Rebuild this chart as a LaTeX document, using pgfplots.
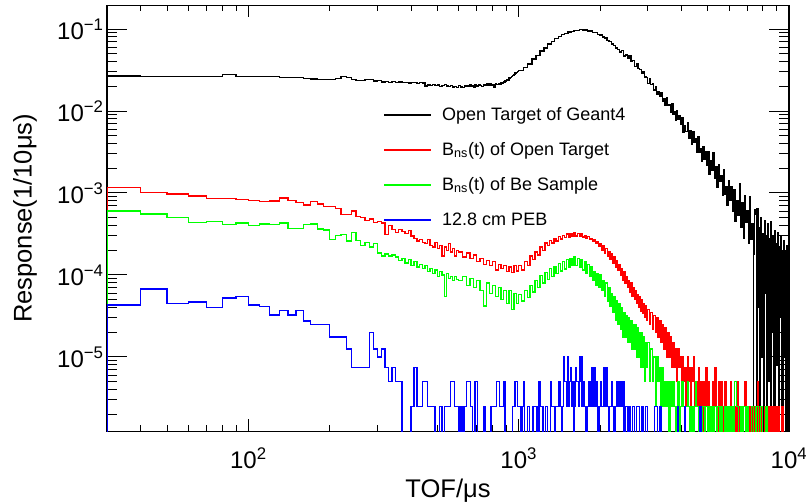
\documentclass[border=0pt]{standalone}
\usepackage{fontspec}
\setmainfont{Liberation Sans}
\usepackage{pgfplots}
\pgfplotsset{compat=1.18}

\definecolor{rootred}{RGB}{255,0,0}
\definecolor{rootgreen}{RGB}{0,255,0}
\definecolor{rootblue}{RGB}{0,0,255}

\begin{document}
\begin{tikzpicture}
\begin{axis}[
  scale only axis, width=681.5bp, height=425.5bp,
  xmode=log, ymode=log,
  xmin=30, xmax=10000, ymin=1.24e-6, ymax=0.1936,
  axis line style={line width=1.2bp},
  tick style={line width=1bp, black},
  tick align=inside, tick pos=both,
  major tick length=12bp, minor tick length=6bp,
  ytick style={/pgfplots/major tick length=20bp, /pgfplots/minor tick length=10bp},
  xtick={100,1000,10000},
  xticklabels={10\textsuperscript{2},10\textsuperscript{3},10\textsuperscript{4}},
  minor xtick={40,50,60,70,80,90,200,300,400,500,600,700,800,900,2000,3000,4000,5000,6000,7000,8000,9000},
  ytick={1e-5,1e-4,1e-3,1e-2,1e-1},
  yticklabels={10\textsuperscript{−5},10\textsuperscript{−4},10\textsuperscript{−3},10\textsuperscript{−2},10\textsuperscript{−1}},
  minor ytick={2e-6,3e-6,4e-6,5e-6,6e-6,7e-6,8e-6,9e-6,
               2e-5,3e-5,4e-5,5e-5,6e-5,7e-5,8e-5,9e-5,
               2e-4,3e-4,4e-4,5e-4,6e-4,7e-4,8e-4,9e-4,
               2e-3,3e-3,4e-3,5e-3,6e-3,7e-3,8e-3,9e-3,
               2e-2,3e-2,4e-2,5e-2,6e-2,7e-2,8e-2,9e-2},
  tick label style={font=\fontsize{24bp}{28bp}\selectfont},
  xticklabel style={yshift=-13bp},
  label style={font=\fontsize{25.5bp}{30bp}\selectfont},
  xlabel={TOF/μs},
  ylabel={Response(1/10μs)},
  xlabel style={at={(axis description cs:0.5,-0.155)}, anchor=base},
  ylabel style={at={(axis description cs:-0.1203,0.5)}, anchor=center},
  legend style={at={(axis description cs:0.405,0.762)}, anchor=north west,
    draw=none, fill=none, inner sep=0pt, column sep=10bp, row sep=18bp,
    font=\fontsize{18bp}{21bp}\selectfont,
    nodes={inner sep=0pt, text height=13bp, text depth=4bp}},
  legend cell align=left,
  legend image code/.code={\draw[#1, line width=1.7bp] (0bp,0.5bp) -- (47bp,0.5bp);},
  every axis plot/.append style={line width=1.3bp, const plot mark left, mark=none},
]

% Open Target of Geant4
\addplot[black] coordinates {
(30,1e-7)(30,0.0268)(40,0.0266)(50,0.0265)(60,0.0264)(70,0.0266)(80,0.0278)(90,0.0262)(100,0.0263)(110,0.0265)(120,0.0262)
(130,0.0257)(140,0.0258)(150,0.0256)(160,0.0248)(170,0.0246)(180,0.0244)(190,0.0240)(200,0.0241)(210,0.0248)(220,0.0262)
(230,0.0258)(240,0.0240)(250,0.0235)(260,0.0236)(270,0.0240)(280,0.0241)(290,0.0233)(300,0.0234)(310,0.0226)(320,0.0229)
(330,0.0224)(340,0.0228)(350,0.0221)(360,0.0226)(370,0.0223)(380,0.0222)(390,0.0219)(400,0.0224)(410,0.0221)(420,0.0218)
(430,0.0222)(440,0.0220)(450,0.0202)(460,0.0208)(470,0.0204)(480,0.0210)(490,0.0203)(500,0.0207)(510,0.0199)(520,0.0205)
(530,0.0211)(540,0.0201)(550,0.0198)(560,0.0203)(570,0.0196)(580,0.0200)(590,0.0195)(600,0.0204)(610,0.0197)(620,0.0193)
(630,0.0201)(640,0.0206)(650,0.0199)(660,0.0209)(670,0.0202)(680,0.0196)(690,0.0207)(700,0.0201)(710,0.0210)(720,0.0204)
(730,0.0199)(740,0.0212)(750,0.0205)(760,0.0214)(770,0.0208)(780,0.0218)(790,0.0206)(800,0.0211)(810,0.0195)(820,0.0214)
(830,0.0209)(840,0.0217)(850,0.0212)(860,0.0222)(870,0.0218)(880,0.0226)(890,0.0232)(900,0.0240)(910,0.0238)(920,0.0252)
(930,0.0256)(940,0.0262)(950,0.0272)(960,0.0280)(970,0.0290)(980,0.0296)(990,0.0304)
(1000,0.0312)(1040,0.0338)(1080,0.0376)(1120,0.0430)(1160,0.0476)(1200,0.0540)(1240,0.0585)(1280,0.0655)(1320,0.0700)(1360,0.0765)
(1400,0.0805)(1440,0.0855)(1480,0.0880)(1520,0.0920)(1560,0.0935)(1600,0.0965)(1640,0.0968)(1680,0.0985)(1720,0.0970)(1760,0.0972)
(1800,0.0950)(1840,0.0945)(1880,0.0912)(1920,0.0900)(1960,0.0860)(2000,0.0842)(2040,0.0800)(2080,0.0775)(2120,0.0728)(2160,0.0705)
(2200,0.0655)(2240,0.0630)(2280,0.0585)(2320,0.0562)(2360,0.0525)
(2400,0.0542)(2440,0.0468)(2480,0.0483)(2520,0.0444)(2560,0.0468)(2600,0.0398)(2640,0.0411)(2680,0.0352)(2720,0.0377)(2760,0.0332)
(2800,0.0324)(2840,0.0284)(2880,0.0302)(2920,0.0260)(2960,0.0256)
(3000,0.0217)(3040,0.0248)(3080,0.0209)(3120,0.0217)(3160,0.0181)(3200,0.0198)(3240,0.0158)(3280,0.0171)(3320,0.0151)(3360,0.0169)
(3400,0.0132)(3440,0.0143)(3480,0.0116)(3520,0.0145)(3560,0.0116)(3600,0.0121)(3640,0.0095)(3680,0.0124)(3720,0.0092)(3760,0.0098)
(3800,0.0078)(3840,0.0100)(3880,0.0079)(3920,0.0087)(3960,0.0068)
(4000,0.0083)(4050,0.0055)(4100,0.0067)(4150,0.0056)(4200,0.0073)(4250,0.0047)(4300,0.0057)(4350,0.0039)(4400,0.0056)(4450,0.0042)
(4500,0.0046)(4550,0.0031)(4600,0.0049)(4650,0.0031)(4700,0.0035)(4750,0.0024)(4800,0.0037)(4850,0.0026)(4900,0.0032)(4950,0.0022)
(5000,0.0032)(5060,0.0017)(5120,0.0025)(5180,0.0019)(5240,0.0031)(5300,0.0015)(5360,0.0021)(5420,0.00116)(5480,0.0022)(5540,0.00139)
(5600,0.00164)(5660,0.00093)(5720,0.0019)(5780,0.00095)(5840,0.00119)(5900,0.00071)(5960,0.0014)
(6020,8.1e-4)(6095,1.19e-3)(6170,5.9e-4)(6245,1.11e-3)(6320,4.5e-4)(6395,8.0e-4)(6470,5.4e-4)(6545,1.29e-3)(6620,3.8e-4)(6695,7.7e-4)
(6770,2.8e-4)(6845,9.2e-4)(6920,4.4e-4)(6995,6.1e-4)(7070,2.4e-4)(7145,9.0e-4)(7220,2.75e-4)(7295,4.2e-4)(7370,1e-7)(7400,1.8e-4)
(7445,6.3e-4)(7520,5.5e-4)(7570,1e-7)(7620,6.5e-4)(7680,4e-5)(7740,3.8e-4)(7800,1e-7)(7860,5.0e-4)(7920,1e-5)(7980,3.2e-4)
(8040,1e-7)(8100,4.6e-4)(8160,6e-5)(8220,3.0e-4)(8280,1e-7)(8340,4.2e-4)(8400,5e-6)(8460,2.8e-4)(8520,1e-7)(8580,4.5e-4)
(8640,2e-5)(8700,3.0e-4)(8760,1e-7)(8820,3.5e-4)(8880,1e-7)(8940,2.4e-4)(9000,8e-6)(9060,3.3e-4)(9120,1e-7)(9180,2.2e-4)
(9240,3e-5)(9300,2.9e-4)(9360,1e-7)(9420,2.0e-4)(9480,1e-7)(9540,2.6e-4)(9600,1e-5)(9660,1.9e-4)(9720,1e-7)(9780,2.3e-4)
(9840,1e-7)(9900,1.8e-4)(9960,1e-7)(10000,1e-7)
};
\addlegendentry{Open Target of Geant4}

% B_ns(t) of Open Target
\addplot[rootred] coordinates {
(30,1e-7)(30,1.17e-3)(40,1.01e-3)(50,9.75e-4)(60,9.2e-4)(70,8.65e-4)(80,8.6e-4)(90,8.3e-4)(100,8.17e-4)(110,7.93e-4)(120,8.0e-4)
(130,8.7e-4)(140,8.17e-4)(150,7.65e-4)(160,7.16e-4)(170,7.93e-4)(180,7.37e-4)(190,6.84e-4)(200,6.9e-4)(210,6.45e-4)(220,5.5e-4)
(230,5.5e-4)(240,6.05e-4)(250,5.13e-4)(260,5.0e-4)(270,4.6e-4)(280,4.8e-4)(290,4.4e-4)(300,4.5e-4)(310,4.3e-4)(320,3.1e-4)
(330,4.0e-4)(340,3.6e-4)(350,3.3e-4)(360,3.6e-4)(370,3.4e-4)(380,3.2e-4)(390,3.5e-4)(400,3.0e-4)(410,2.8e-4)(420,2.6e-4)
(430,2.7e-4)(440,2.5e-4)(450,2.4e-4)(460,2.7e-4)(470,2.3e-4)(480,2.2e-4)(490,2.5e-4)(500,2.1e-4)(510,2.3e-4)(520,1.7e-4)
(530,2.2e-4)(540,2.0e-4)(550,2.4e-4)(560,1.9e-4)(570,2.1e-4)(580,1.7e-4)(590,2.0e-4)
(600,1.9e-4)(620,1.65e-4)(640,1.85e-4)(660,1.6e-4)(680,1.75e-4)(700,1.45e-4)(720,1.6e-4)(740,1.35e-4)(760,1.5e-4)(780,1.3e-4)
(800,1.45e-4)(820,1.15e-4)(840,1.35e-4)(860,1.2e-4)(880,1.3e-4)(900,1.1e-4)(920,1.25e-4)(940,1.08e-4)(960,1.3e-4)(980,1.12e-4)
(1000,1.3e-4)(1025,1.15e-4)(1050,1.45e-4)(1075,1.3e-4)(1100,1.7e-4)(1125,1.55e-4)(1150,1.9e-4)(1175,1.75e-4)(1200,2.2e-4)(1225,2.0e-4)
(1250,2.45e-4)(1275,2.3e-4)(1300,2.65e-4)(1325,2.45e-4)(1350,2.8e-4)(1375,2.6e-4)(1400,2.95e-4)(1425,2.75e-4)(1450,3.05e-4)(1475,2.85e-4)
(1500,3.15e-4)(1525,2.9e-4)(1550,3.2e-4)(1575,2.95e-4)(1600,3.3e-4)(1625,3.0e-4)(1650,3.2e-4)(1675,2.95e-4)(1700,3.15e-4)(1725,2.9e-4)
(1750,3.05e-4)(1775,2.8e-4)(1800,2.95e-4)(1825,2.7e-4)(1850,2.8e-4)(1875,2.55e-4)(1900,2.7e-4)(1925,2.4e-4)(1950,2.55e-4)(1975,2.25e-4)
(2000,2.4e-4)(2025,2.0e-4)(2050,2.3e-4)(2075,1.85e-4)(2100,2.1e-4)(2125,1.7e-4)(2150,1.95e-4)(2175,1.55e-4)(2200,1.8e-4)(2225,1.4e-4)
(2250,1.65e-4)(2275,1.25e-4)(2300,1.5e-4)(2325,1.15e-4)(2350,1.35e-4)(2375,1.0e-4)(2400,1.2e-4)(2425,8.5e-5)(2450,1.1e-4)(2475,8.0e-5)
(2500,9.5e-5)(2525,7.0e-5)(2550,8.5e-5)(2575,6.2e-5)(2600,8.0e-5)(2625,5.5e-5)(2650,7.0e-5)(2675,5.0e-5)(2700,6.5e-5)(2725,4.5e-5)
(2750,5.8e-5)(2775,4.0e-5)(2800,5.5e-5)(2825,3.6e-5)(2850,5.0e-5)(2875,3.4e-5)(2900,4.5e-5)(2925,3.0e-5)(2950,4.2e-5)(2975,2.8e-5)
(3000,3.8e-5)(3040,2.5e-5)(3080,3.5e-5)(3120,2.2e-5)(3160,3.2e-5)(3200,2.0e-5)(3240,3.0e-5)(3280,1.75e-5)(3320,2.75e-5)(3360,1.5e-5)
(3400,2.5e-5)(3440,1.25e-5)(3480,2.25e-5)(3520,1.0e-5)(3560,2.0e-5)(3600,1.0e-5)(3640,1.75e-5)(3680,7.5e-6)(3720,1.5e-5)(3760,7.5e-6)
(3800,1.25e-5)(3840,5e-6)(3880,1.25e-5)(3920,7.5e-6)(3960,1.0e-5)(4000,5e-6)(4040,1.0e-5)(4080,5e-6)(4120,7.5e-6)(4160,2.5e-6)
(4200,1.0e-5)(4240,5e-6)(4280,7.5e-6)(4320,2.5e-6)(4360,7.5e-6)(4400,5e-6)(4440,1.0e-5)(4480,2.5e-6)
(4520,5e-6)(4570,2.5e-6)(4620,7.5e-6)(4670,2.5e-6)(4720,5e-6)(4770,1e-7)(4820,5e-6)(4870,2.5e-6)(4920,7.5e-6)(4970,2.5e-6)
(5020,5e-6)(5080,2.5e-6)(5140,1e-7)(5200,5e-6)(5260,2.5e-6)(5320,7.5e-6)(5380,2.5e-6)(5440,1e-7)(5500,5e-6)(5560,2.5e-6)
(5620,5e-6)(5680,1e-7)(5740,2.5e-6)(5800,5e-6)(5860,2.5e-6)(5930,1e-7)(6000,2.5e-6)(6070,5e-6)(6140,2.5e-6)(6210,1e-7)
(6280,2.5e-6)(6350,1e-7)(6420,5e-6)(6490,2.5e-6)(6560,1e-7)(6640,2.5e-6)(6720,1e-7)(6800,2.5e-6)(6880,5e-6)(6960,2.5e-6)
(7040,1e-7)(7120,2.5e-6)(7200,1e-7)(7280,2.5e-6)(7360,1e-7)(7450,2.5e-6)(7540,1e-7)(7630,5e-6)(7720,2.5e-6)(7810,1e-7)
(7900,2.5e-6)(8000,1e-7)(8100,2.5e-6)(8200,1e-7)(8300,2.5e-6)(8400,1e-7)(8500,2.5e-6)(8650,1e-7)(8800,2.5e-6)(8950,1e-7)
(9100,2.5e-6)(9200,1e-7)(9400,2.5e-6)(9500,1e-7)(10000,1e-7)
};
\addlegendentry{B\textsubscript{ns}(t) of Open Target}

% B_ns(t) of Be Sample
\addplot[rootgreen] coordinates {
(30,1e-7)(30,6.05e-4)(40,5.56e-4)(50,5.07e-4)(60,4.4e-4)(70,4.46e-4)(80,4.16e-4)(90,4.3e-4)(100,4.05e-4)(110,4.2e-4)(120,4.1e-4)
(130,4.3e-4)(140,3.71e-4)(150,3.71e-4)(160,4.16e-4)(170,4.2e-4)(180,3.65e-4)(190,3.55e-4)(200,2.7e-4)(210,3.02e-4)(220,3.1e-4)
(230,2.6e-4)(240,3.3e-4)(250,2.65e-4)(260,2.3e-4)(270,2.5e-4)(280,2.2e-4)(290,2.4e-4)(300,1.85e-4)(310,1.7e-4)(320,1.8e-4)
(330,1.7e-4)(340,1.75e-4)(350,1.65e-4)(360,1.5e-4)(370,1.6e-4)(380,1.4e-4)(390,1.55e-4)(400,1.3e-4)(410,1.45e-4)(420,1.25e-4)
(430,1.35e-4)(440,1.2e-4)(450,1.3e-4)(460,1.1e-4)(470,1.2e-4)(480,1.05e-4)(490,1.15e-4)(500,9.5e-5)(510,1.1e-4)(520,1.0e-4)
(530,5.5e-5)(540,1.05e-4)(550,9e-5)(560,9.5e-5)(570,8.5e-5)(580,9.5e-5)(590,8.8e-5)
(600,8.5e-5)(620,9.5e-5)(640,7.5e-5)(660,9e-5)(680,7.0e-5)(700,8.5e-5)(720,6.5e-5)(740,4.2e-5)(760,8.0e-5)(780,6.0e-5)
(800,7.5e-5)(820,5.5e-5)(840,7.0e-5)(860,5.0e-5)(880,6.5e-5)(900,4.5e-5)(920,6.5e-5)(940,3.8e-5)(960,6.0e-5)(980,4.5e-5)
(1000,5.8e-5)(1025,4.8e-5)(1050,6.5e-5)(1075,5.3e-5)(1100,7.5e-5)(1125,6.2e-5)(1150,8.5e-5)(1175,7.0e-5)(1200,9.8e-5)(1225,8.0e-5)
(1250,1.08e-4)(1275,8.8e-5)(1300,1.2e-4)(1325,9.5e-5)(1350,1.28e-4)(1375,1.05e-4)(1400,1.38e-4)(1425,1.12e-4)(1450,1.45e-4)(1475,1.18e-4)
(1500,1.55e-4)(1525,1.25e-4)(1550,1.6e-4)(1575,1.3e-4)(1600,1.68e-4)(1625,1.3e-4)(1650,1.6e-4)(1675,1.25e-4)(1700,1.55e-4)(1725,1.15e-4)
(1750,1.45e-4)(1775,1.05e-4)(1800,1.35e-4)(1825,9.5e-5)(1850,1.25e-4)(1875,8.5e-5)(1900,1.1e-4)(1925,7.5e-5)(1950,1.05e-4)(1975,7.0e-5)
(2000,1.0e-4)(2025,6.5e-5)(2050,8.5e-5)(2075,5.5e-5)(2100,8.0e-5)(2125,4.8e-5)(2150,7.0e-5)(2175,4.2e-5)(2200,6.0e-5)(2225,3.5e-5)
(2250,5.5e-5)(2275,2.8e-5)(2300,4.8e-5)(2325,2.5e-5)(2350,4.5e-5)(2375,2.2e-5)(2400,4.0e-5)(2425,1.75e-5)(2450,3.5e-5)(2475,1.75e-5)
(2500,3.2e-5)(2525,1.5e-5)(2550,3.0e-5)(2575,1.5e-5)(2600,2.75e-5)(2625,1.25e-5)(2650,2.5e-5)(2675,1.25e-5)(2700,2.5e-5)(2725,1.0e-5)
(2750,2.25e-5)(2775,1.0e-5)(2800,2.0e-5)(2825,7.5e-6)(2850,2.0e-5)(2875,7.5e-6)(2900,1.75e-5)(2925,5e-6)(2950,1.5e-5)(2975,7.5e-6)
(3000,1.5e-5)(3040,5e-6)(3080,1.25e-5)(3120,5e-6)(3160,1.0e-5)(3200,2.5e-6)(3240,1.0e-5)(3280,5e-6)(3320,7.5e-6)(3360,2.5e-6)
(3400,7.5e-6)(3440,2.5e-6)(3480,5e-6)(3520,2.5e-6)(3560,5e-6)(3600,1e-7)(3640,5e-6)(3680,2.5e-6)(3720,5e-6)(3760,2.5e-6)
(3800,1e-7)(3840,2.5e-6)(3880,5e-6)(3920,1e-7)(3960,2.5e-6)
(4000,5e-6)(4050,2.5e-6)(4100,1e-7)(4150,2.5e-6)(4200,5e-6)(4250,2.5e-6)(4300,1e-7)(4350,2.5e-6)(4400,1e-7)(4450,2.5e-6)
(4500,5e-6)(4560,2.5e-6)(4620,1e-7)(4680,2.5e-6)(4740,1e-7)(4800,2.5e-6)(4860,1e-7)(4920,2.5e-6)(4980,1e-7)(5040,2.5e-6)
(5100,1e-7)(5170,2.5e-6)(5240,1e-7)(5310,2.5e-6)(5380,1e-7)(5450,2.5e-6)(5520,1e-7)(5600,2.5e-6)(5680,1e-7)(5760,2.5e-6)
(5840,1e-7)(5920,2.5e-6)(6000,1e-7)(6100,2.5e-6)(6200,1e-7)(6300,5e-6)(6400,2.5e-6)(6500,1e-7)(6600,2.5e-6)(6700,1e-7)
(6800,2.5e-6)(6900,1e-7)(7000,2.5e-6)(7100,1e-7)(7250,2.5e-6)(7400,1e-7)(7550,2.5e-6)(7700,1e-7)(7850,2.5e-6)(8000,1e-7)
(8200,2.5e-6)(8300,1e-7)(10000,1e-7)
};
\addlegendentry{B\textsubscript{ns}(t) of Be Sample}

% 12.8 cm PEB
\addplot[rootblue] coordinates {
(30,1e-7)(30,4.3e-5)(40,6.75e-5)(50,4.47e-5)(60,4.68e-5)(70,4.0e-5)(80,5.25e-5)(90,5.5e-5)(100,4.3e-5)(110,4.1e-5)(120,3.25e-5)
(130,3.7e-5)(140,3.25e-5)(150,3.7e-5)(160,2.75e-5)(170,2.5e-5)(180,2.5e-5)(190,2.5e-5)(200,1.75e-5)(210,1.75e-5)(220,1.75e-5)
(230,1.25e-5)(240,7.5e-6)(250,7.5e-6)(260,7.5e-6)(270,7.5e-6)(280,2.0e-5)(290,1.25e-5)(300,1.0e-5)(310,1.25e-5)(320,7.5e-6)
(330,5e-6)(340,7.5e-6)(350,5e-6)(360,5e-6)(370,1e-7)(400,2.5e-6)(410,7.5e-6)(420,2.5e-6)(440,5e-6)(460,2.5e-6)
(490,1e-7)(510,2.5e-6)(520,1e-7)(530,2.5e-6)(560,5e-6)(580,2.5e-6)(600,1e-7)(605,2.5e-6)(612,1e-7)(618,2.5e-6)
(625,1e-7)(632,2.5e-6)(640,5e-6)(665,2.5e-6)(675,1e-7)(690,5e-6)(705,1e-7)(740,2.5e-6)(750,1e-7)(790,2.5e-6)
(830,5e-6)(850,2.5e-6)(880,5e-6)(890,1e-7)(950,2.5e-6)(970,5e-6)(990,2.5e-6)(1020,1e-7)(1030,2.5e-6)(1040,5e-6)
(1050,1e-7)(1080,2.5e-6)(1095,1e-7)(1130,2.5e-6)(1170,1e-7)(1190,5e-6)(1200,2.5e-6)(1230,1e-7)(1260,2.5e-6)(1280,1e-7)
(1310,5e-6)(1325,2.5e-6)(1360,1e-7)(1370,2.5e-6)(1400,5e-6)(1420,2.5e-6)(1440,1e-7)(1450,2.5e-6)(1465,1.0e-5)(1480,5e-6)
(1500,2.5e-6)(1515,1.0e-5)(1525,2.5e-6)(1540,5e-6)(1555,7.5e-6)(1570,2.5e-6)(1585,5e-6)(1600,1e-7)(1610,2.5e-6)(1625,7.5e-6)
(1640,5e-6)(1660,2.5e-6)(1675,1.0e-5)(1690,5e-6)(1705,1.0e-5)(1715,2.5e-6)(1730,5e-6)(1750,2.5e-6)(1770,1e-7)(1790,2.5e-6)
(1820,5e-6)(1840,2.5e-6)(1860,7.5e-6)(1880,2.5e-6)(1900,7.5e-6)(1920,2.5e-6)(1945,5e-6)(1960,1e-7)(1980,2.5e-6)(2010,5e-6)
(2030,2.5e-6)(2060,7.5e-6)(2080,2.5e-6)(2100,7.5e-6)(2120,2.5e-6)(2150,1e-7)(2170,2.5e-6)(2200,5e-6)(2220,2.5e-6)(2250,1e-7)
(2270,2.5e-6)(2300,5e-6)(2330,2.5e-6)(2360,5e-6)(2390,2.5e-6)(2420,5e-6)(2450,1e-7)(2480,2.5e-6)(2520,1e-7)(2560,2.5e-6)
(2590,1e-7)(2630,2.5e-6)(2680,1e-7)(2730,2.5e-6)(2800,1e-7)(2840,2.5e-6)(2880,1e-7)(2950,2.5e-6)(2990,1e-7)(3180,2.5e-6)
(3260,1e-7)(3330,2.5e-6)(3360,1e-7)(3860,2.5e-6)(3900,1e-7)(4100,2.5e-6)(4140,1e-7)(4680,2.5e-6)(4720,1e-7)(10000,1e-7)
};
\addlegendentry{12.8 cm PEB}

\end{axis}
\pgfresetboundingbox
\path (-107bp,-72bp) rectangle (698.5bp,431bp);
\end{tikzpicture}
\end{document}
